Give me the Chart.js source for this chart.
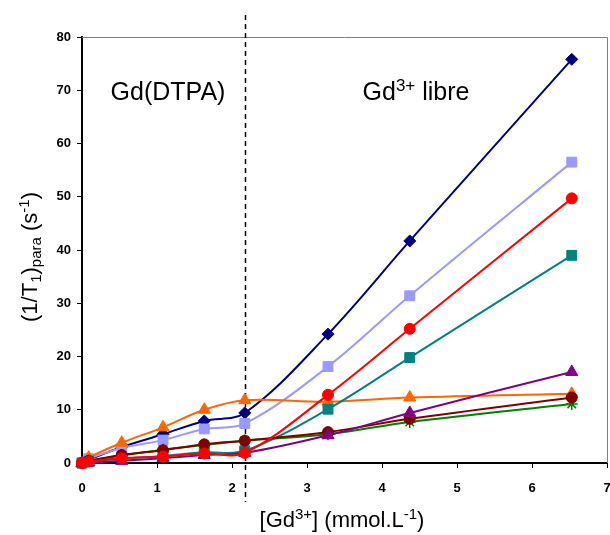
<!DOCTYPE html>
<html>
<head>
<meta charset="utf-8">
<script src="https://cdn.jsdelivr.net/npm/chart.js@4/dist/chart.umd.min.js"></script>
<style>
html,body{margin:0;padding:0;background:#fff;}
#wrap{width:610px;height:535px;}
</style>
</head>
<body>
<div id="wrap"><canvas id="c" width="610" height="535"></canvas></div>
<script>
// ---- data ----
const xValues   = [0, 0.09, 0.53, 1.08, 1.63, 2.17, 3.28, 4.37, 6.53];
const navy      = [0, 0.6, 3.0, 5.4, 7.9, 9.4, 24.2, 41.7, 75.8];
const lightBlue = [0, 0.8, 2.8, 4.3, 6.4, 7.4, 18.1, 31.4, 56.5];
const red       = [0, 0.3, 0.9, 1.2, 1.8, 1.9, 12.8, 25.2, 49.7];
const teal      = [0, 0.3, 0.8, 1.3, 2.0, 2.3, 10.1, 19.8, 39.0];
const purple    = [0, 0.1, 0.4, 0.9, 1.5, 1.9, 5.2, 9.4, 17.1];
const orange    = [0, 1.0, 3.8, 6.7, 10.0, 11.8, 11.5, 12.3, 13.0];
const maroon    = [0, 0.4, 1.5, 2.4, 3.5, 4.2, 5.8, 8.3, 12.3];
const green     = [0, 0.4, 1.4, 2.5, 3.4, 4.2, 5.4, 7.7, 11.1];
const xTicks    = [0, 1, 2, 3, 4, 5, 6, 7];
const yTicks    = [0, 10, 20, 30, 40, 50, 60, 70, 80];
const boundaryX = 2.17;
const leftLabel = "Gd(DTPA)";
const rightLabel = [["Gd","n"],["3+","sup"],[" libre","n"]];
const xTitle = [["[Gd","n"],["3+","sup"],["] (mmol.L","n"],["-1","sup"],[")","n"]];
const yTitle = [["(1/T","n"],["1","sub"],[")","n"],["para","sub"],[" (s","n"],["-1","sup"],[")","n"]];

const FONT = "'Liberation Sans', Arial, sans-serif";

function pts(arr){ return xValues.map((x,i)=>({x:x,y:arr[i]})); }

function ds(label, data, color, style, radius, order){
  return {
    label: label, data: pts(data),
    borderColor: color, backgroundColor: color,
    pointBackgroundColor: color, pointBorderColor: color,
    pointStyle: style, pointRadius: radius, pointBorderWidth: style==='star'?1.5:1,
    borderWidth: 2, tension: 0.35, order: order, fill:false, clip: false
  };
}

function richWidth(ctx, segs, size){
  let w = 0;
  for (const [t,k] of segs){
    ctx.font = (k==='n' ? size : Math.round(size*0.66)) + "px " + FONT;
    w += ctx.measureText(t).width;
  }
  return w;
}
function drawRich(ctx, segs, size, cx, baseY){
  const w = richWidth(ctx, segs, size);
  let x = cx - w/2;
  ctx.textAlign = 'left';
  ctx.textBaseline = 'alphabetic';
  for (const [t,k] of segs){
    const s = k==='n' ? size : Math.round(size*0.66);
    ctx.font = s + "px " + FONT;
    let y = baseY;
    if (k==='sup') y = baseY - size*0.36;
    if (k==='sub') y = baseY + size*0.2;
    ctx.fillText(t, x, y);
    x += ctx.measureText(t).width;
  }
}

const decor = {
  id: 'decor',
  beforeDatasetsDraw(chart){
    const ctx = chart.ctx, a = chart.chartArea;
    const xs = chart.scales.x;
    ctx.save();
    // top & right frame
    ctx.strokeStyle = '#808080'; ctx.lineWidth = 1;
    ctx.beginPath();
    ctx.moveTo(a.left, a.top+0.5); ctx.lineTo(a.right+0.5, a.top+0.5); ctx.lineTo(a.right+0.5, a.bottom);
    ctx.stroke();
    // dashed boundary
    const px = Math.round(xs.getPixelForValue(boundaryX)) + 0.5;
    ctx.strokeStyle = '#000'; ctx.lineWidth = 1.5; ctx.setLineDash([5,4]);
    ctx.beginPath(); ctx.moveTo(px, 15); ctx.lineTo(px, 502); ctx.stroke();
    ctx.setLineDash([]);
    // region labels
    ctx.fillStyle = '#000';
    ctx.font = "25px " + FONT; ctx.textAlign = 'center'; ctx.textBaseline = 'alphabetic';
    ctx.fillText(leftLabel, 168, 100);
    drawRich(ctx, rightLabel, 25, 416, 100);
    // x title
    drawRich(ctx, xTitle, 22, 342, 527);
    // y title
    ctx.save();
    ctx.translate(37, 257);
    ctx.rotate(-Math.PI/2);
    drawRich(ctx, yTitle, 22, 0, 0);
    ctx.restore();
    ctx.restore();
  }
};

new Chart(document.getElementById('c'), {
  type: 'line',
  data: {
    datasets: [
      ds('navy', navy, '#000080', 'rectRot', 6, 8),
      ds('lightblue', lightBlue, '#9999FF', 'rect', 7, 7),
      ds('orange', orange, '#FF6600', 'triangle', 7, 6),
      ds('teal', teal, '#008080', 'rect', 7, 5),
      ds('green', green, '#008000', 'star', 6, 4),
      ds('maroon', maroon, '#800000', 'circle', 5.5, 3),
      ds('purple', purple, '#800080', 'triangle', 7, 2),
      ds('red', red, '#FF0000', 'circle', 5.5, 1)
    ]
  },
  options: {
    responsive: false,
    animation: false,
    devicePixelRatio: 1,
    layout: { autoPadding: false, padding: { top: 37, right: 3, left: 0, bottom: 0 } },
    plugins: { legend: { display: false }, tooltip: { enabled: false } },
    scales: {
      x: {
        type: 'linear', min: 0, max: 7,
        afterBuildTicks(s){ s.ticks = xTicks.map(v=>({value:v})); },
        afterFit(s){ s.height = 72; s.paddingLeft = 0; s.paddingRight = 0; },
        grid: { drawOnChartArea: false, drawTicks: true, tickLength: 5, color: '#000', lineWidth: 1 },
        border: { display: true, color: '#000', width: 2 },
        ticks: { color: '#000', padding: 13, maxRotation: 0, font: { family: FONT, size: 13, weight: 'bold' } }
      },
      y: {
        type: 'linear', min: 0, max: 80,
        afterBuildTicks(s){ s.ticks = yTicks.map(v=>({value:v})); },
        afterFit(s){ s.width = 82; s.paddingTop = 0; s.paddingBottom = 0; },
        grid: { drawOnChartArea: false, drawTicks: true, tickLength: 5, color: '#000', lineWidth: 1 },
        border: { display: true, color: '#000', width: 2 },
        ticks: { color: '#000', padding: 6, font: { family: FONT, size: 13, weight: 'bold' } }
      }
    }
  },
  plugins: [decor]
});
</script>
</body>
</html>
